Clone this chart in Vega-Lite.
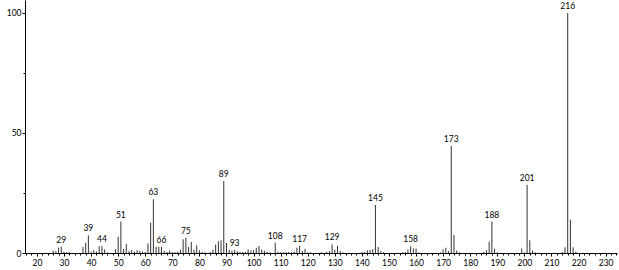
{
  "$schema": "https://vega.github.io/schema/vega-lite/v6.json",
  "autosize": "none",
  "width": 592,
  "height": 253,
  "padding": {"left": 25, "top": 0, "right": 2, "bottom": 17},
  "background": "white",
  "config": {"view": {"stroke": null}, "font": "Lato"},
  "data": {"values": [
    {"mz": 26, "i": 1.0}, {"mz": 27, "i": 0.8}, {"mz": 28, "i": 2.2}, {"mz": 29, "i": 2.6, "label": "29"},
    {"mz": 30, "i": 0.5}, {"mz": 31, "i": 0.4}, {"mz": 32, "i": 0.3}, {"mz": 37, "i": 2.5},
    {"mz": 38, "i": 4.2}, {"mz": 39, "i": 7.3, "label": "39"}, {"mz": 40, "i": 0.6}, {"mz": 41, "i": 1.2},
    {"mz": 42, "i": 0.6}, {"mz": 43, "i": 2.8}, {"mz": 44, "i": 2.8, "label": "44"}, {"mz": 45, "i": 1.5},
    {"mz": 46, "i": 0.3}, {"mz": 49, "i": 1.5}, {"mz": 50, "i": 6.8}, {"mz": 51, "i": 13.1, "label": "51"},
    {"mz": 52, "i": 1.7}, {"mz": 53, "i": 3.8}, {"mz": 54, "i": 0.8}, {"mz": 55, "i": 1.2},
    {"mz": 56, "i": 0.6}, {"mz": 57, "i": 1.2}, {"mz": 58, "i": 0.9}, {"mz": 59, "i": 0.6},
    {"mz": 60, "i": 0.4}, {"mz": 61, "i": 4.0}, {"mz": 62, "i": 12.7}, {"mz": 63, "i": 22.4, "label": "63"},
    {"mz": 64, "i": 2.6}, {"mz": 65, "i": 2.6}, {"mz": 66, "i": 2.6, "label": "66"}, {"mz": 67, "i": 0.9},
    {"mz": 68, "i": 0.4}, {"mz": 69, "i": 1.0}, {"mz": 70, "i": 0.4}, {"mz": 71, "i": 0.3},
    {"mz": 72, "i": 0.6}, {"mz": 73, "i": 1.4}, {"mz": 74, "i": 5.7}, {"mz": 75, "i": 6.4, "label": "75"},
    {"mz": 76, "i": 2.5}, {"mz": 77, "i": 4.6}, {"mz": 78, "i": 1.4}, {"mz": 79, "i": 3.2},
    {"mz": 80, "i": 1.1}, {"mz": 81, "i": 0.5}, {"mz": 82, "i": 0.3}, {"mz": 84, "i": 0.4},
    {"mz": 85, "i": 1.4}, {"mz": 86, "i": 3.5}, {"mz": 87, "i": 4.9}, {"mz": 88, "i": 5.3},
    {"mz": 89, "i": 30.0, "label": "89"}, {"mz": 90, "i": 4.2}, {"mz": 91, "i": 1.4}, {"mz": 92, "i": 1.0},
    {"mz": 93, "i": 1.2, "label": "93"}, {"mz": 94, "i": 0.8}, {"mz": 95, "i": 0.5}, {"mz": 96, "i": 0.4},
    {"mz": 97, "i": 0.5}, {"mz": 98, "i": 1.5}, {"mz": 99, "i": 1.0}, {"mz": 100, "i": 1.2},
    {"mz": 101, "i": 2.2}, {"mz": 102, "i": 2.9}, {"mz": 103, "i": 1.5}, {"mz": 104, "i": 1.0},
    {"mz": 105, "i": 0.6}, {"mz": 106, "i": 0.3}, {"mz": 108, "i": 4.3, "label": "108"}, {"mz": 109, "i": 0.5},
    {"mz": 110, "i": 0.3}, {"mz": 111, "i": 0.3}, {"mz": 112, "i": 0.4}, {"mz": 113, "i": 0.5},
    {"mz": 114, "i": 0.4}, {"mz": 115, "i": 0.6}, {"mz": 116, "i": 2.2}, {"mz": 117, "i": 3.0, "label": "117"},
    {"mz": 118, "i": 0.8}, {"mz": 119, "i": 1.7}, {"mz": 120, "i": 0.3}, {"mz": 121, "i": 0.3},
    {"mz": 125, "i": 0.3}, {"mz": 127, "i": 0.5}, {"mz": 128, "i": 0.8}, {"mz": 129, "i": 3.6, "label": "129"},
    {"mz": 130, "i": 1.4}, {"mz": 131, "i": 3.0}, {"mz": 132, "i": 0.9}, {"mz": 133, "i": 0.3},
    {"mz": 140, "i": 0.3}, {"mz": 141, "i": 0.4}, {"mz": 142, "i": 1.1}, {"mz": 143, "i": 1.3},
    {"mz": 144, "i": 1.6}, {"mz": 145, "i": 20.0, "label": "145"}, {"mz": 146, "i": 2.5}, {"mz": 147, "i": 0.8},
    {"mz": 148, "i": 0.3}, {"mz": 155, "i": 0.3}, {"mz": 156, "i": 0.4}, {"mz": 157, "i": 1.4},
    {"mz": 158, "i": 2.8, "label": "158"}, {"mz": 159, "i": 1.9}, {"mz": 160, "i": 1.9}, {"mz": 161, "i": 0.3},
    {"mz": 169, "i": 0.3}, {"mz": 170, "i": 1.5}, {"mz": 171, "i": 2.2}, {"mz": 172, "i": 0.8},
    {"mz": 173, "i": 44.6, "label": "173"}, {"mz": 174, "i": 7.5}, {"mz": 175, "i": 1.0}, {"mz": 176, "i": 0.3},
    {"mz": 185, "i": 0.5}, {"mz": 186, "i": 1.2}, {"mz": 187, "i": 4.7}, {"mz": 188, "i": 13.1, "label": "188"},
    {"mz": 189, "i": 1.8}, {"mz": 190, "i": 0.3}, {"mz": 199, "i": 1.9}, {"mz": 200, "i": 0.3},
    {"mz": 201, "i": 28.4, "label": "201"}, {"mz": 202, "i": 5.3}, {"mz": 203, "i": 1.0}, {"mz": 204, "i": 0.3},
    {"mz": 214, "i": 0.4}, {"mz": 215, "i": 2.4}, {"mz": 216, "i": 100.0, "label": "216"}, {"mz": 217, "i": 13.9},
    {"mz": 218, "i": 2.4}, {"mz": 219, "i": 0.6}
  ]},
  "encoding": {
    "x": {"field": "mz", "type": "quantitative",
      "scale": {"domain": [15.6, 234.2], "nice": false, "zero": false},
      "axis": {"title": null, "grid": false,
        "values": [16,18,20,22,24,26,28,30,32,34,36,38,40,42,44,46,48,50,52,54,56,58,60,62,64,66,68,70,72,74,76,78,80,82,84,86,88,90,92,94,96,98,100,102,104,106,108,110,112,114,116,118,120,122,124,126,128,130,132,134,136,138,140,142,144,146,148,150,152,154,156,158,160,162,164,166,168,170,172,174,176,178,180,182,184,186,188,190,192,194,196,198,200,202,204,206,208,210,212,214,216,218,220,222,224,226,228,230,232,234],
        "labelExpr": "datum.value % 10 === 0 ? datum.label : ''",
        "labelOverlap": false, "labelFlush": false, "labelBound": false,
        "labelFont": "Lato", "labelFontSize": 8.5, "labelColor": "black", "labelPadding": 2,
        "tickColor": "black", "tickWidth": 1,
        "tickSize": {"condition": {"test": "datum.value % 10 === 0", "value": 3}, "value": 2},
        "domainColor": "black", "domainWidth": 1}
    },
    "y": {"field": "i", "type": "quantitative",
      "scale": {"domain": [0, 105.4], "nice": false},
      "axis": {"title": null, "grid": false,
        "values": [0, 25, 50, 75, 100],
        "labelExpr": "datum.value % 50 === 0 ? datum.label : ''",
        "labelFont": "Lato", "labelFontSize": 8.5, "labelColor": "black", "labelPadding": 1,
        "tickColor": "black", "tickWidth": 1,
        "tickSize": {"condition": {"test": "datum.value % 50 === 0", "value": 3}, "value": 2},
        "domainColor": "black", "domainWidth": 1}
    }
  },
  "layer": [
    {"mark": {"type": "rule", "color": "#333", "strokeWidth": 1},
     "encoding": {"y2": {"datum": 0}}},
    {"transform": [{"filter": "datum.label != null"}],
     "mark": {"type": "text", "font": "Lato", "fontSize": 8.5, "color": "black", "baseline": "bottom", "align": "center", "dy": -2},
     "encoding": {"text": {"field": "label"}}}
  ]
}
